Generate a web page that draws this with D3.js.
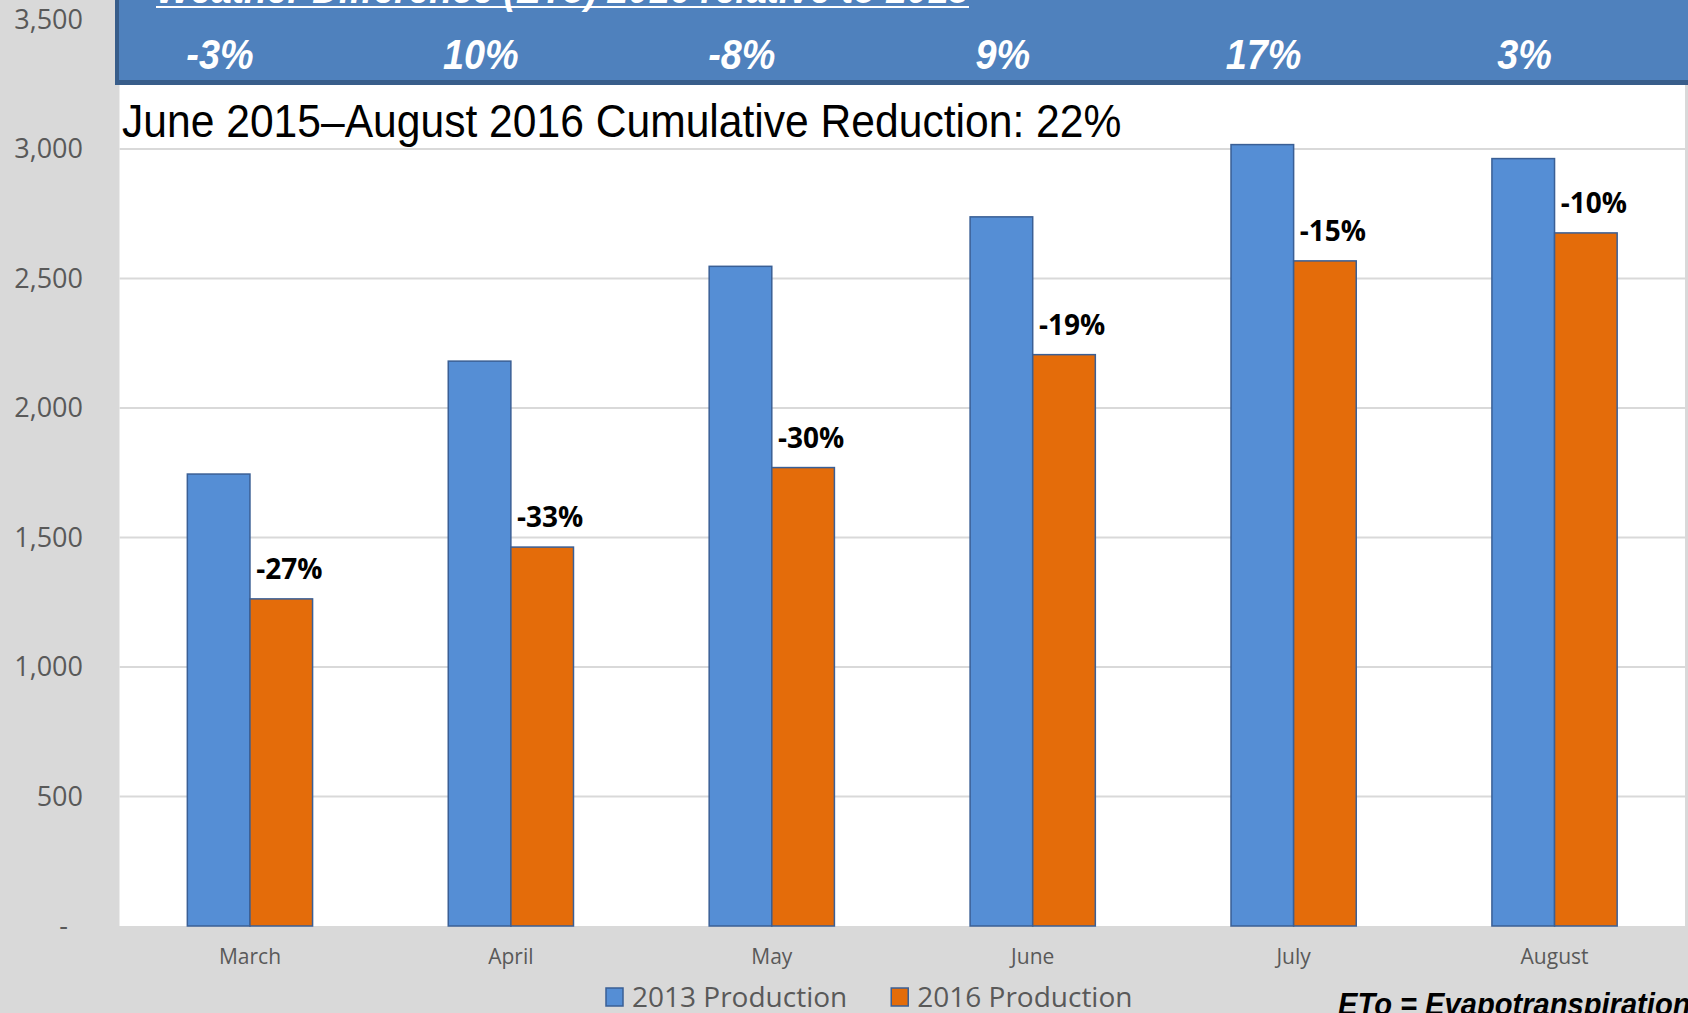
<!DOCTYPE html>
<html>
<head>
<meta charset="utf-8">
<script src="https://cdn.jsdelivr.net/npm/d3@7"></script>
<style>
body { margin:0; background:#d9d9d9; overflow:hidden; }
</style>
</head>
<body>
<div id="chart"></div>
<script>
var months = ["March", "April", "May", "June", "July", "August"];
var prod2013 = [1745, 2181, 2547, 2738, 3017, 2963];
var prod2016 = [1263, 1463, 1770, 2206, 2568, 2676];
var reduction = ["-27%", "-33%", "-30%", "-19%", "-15%", "-10%"];
var etoDiff = ["-3%", "10%", "-8%", "9%", "17%", "3%"];
var yTicks = [0, 500, 1000, 1500, 2000, 2500, 3000, 3500];
var seriesNames = ["2013 Production", "2016 Production"];
var seriesColors = ["#558ed5", "#e46c0a"];

var W = 1688, H = 1013;
var plot = {left: 119.5, right: 1685, top: 19.5, bottom: 926};

var svg = d3.select("#chart").append("svg")
  .attr("width", W)
  .attr("height", H);

svg.append("rect")
  .attr("width", W).attr("height", H)
  .attr("fill", "#d9d9d9");

var x0 = d3.scaleBand()
  .domain(months)
  .range([plot.left, plot.right])
  .padding(0);

var barW = x0.bandwidth() * 0.24;

var y = d3.scaleLinear()
  .domain([0, 3500])
  .range([plot.bottom, plot.top]);

// squeeze text horizontally (the source fonts are narrower)
function squeeze(sel, k) {
  sel.each(function(){
    var w = this.getComputedTextLength();
    d3.select(this).attr("textLength", w * k).attr("lengthAdjust", "spacingAndGlyphs");
  });
}

// plot area
svg.append("rect")
  .attr("x", plot.left)
  .attr("y", plot.top)
  .attr("width", plot.right - plot.left)
  .attr("height", plot.bottom - plot.top)
  .attr("fill", "#fff");

svg.selectAll(".grid")
  .data(yTicks.filter(function(d){ return d > 0; }))
  .enter().append("line")
  .attr("class", "grid")
  .attr("x1", plot.left)
  .attr("x2", plot.right)
  .attr("y1", function(d){ return y(d); })
  .attr("y2", function(d){ return y(d); })
  .attr("stroke", "#d9d9d9")
  .attr("stroke-width", 2);

// y axis
var yAxis = svg.append("g")
  .attr("transform", "translate(83,0)")
  .call(d3.axisLeft(y).tickValues(yTicks).tickSize(0).tickPadding(0)
    .tickFormat(function(d){ return d === 0 ? "-" : d3.format(",")(d); }));
yAxis.select(".domain").remove();
yAxis.selectAll("text")
  .attr("font-family", "Open Sans")
  .attr("font-size", "27px")
  .attr("fill", "#595959")
  .attr("dx", function(d){ return d === 0 ? -15 : 0; });

// x axis
var xAxis = svg.append("g")
  .attr("transform", "translate(0," + plot.bottom + ")")
  .call(d3.axisBottom(x0).tickSize(0).tickPadding(23));
xAxis.select(".domain").remove();
xAxis.selectAll("text")
  .attr("font-family", "Open Sans")
  .attr("font-size", "21px")
  .attr("fill", "#595959");

// bars
var groups = svg.selectAll(".month")
  .data(months)
  .enter().append("g")
  .attr("class", "month");

groups.append("rect")
  .attr("x", function(d){ return x0(d) + x0.bandwidth() / 2 - barW; })
  .attr("y", function(d, i){ return y(prod2013[i]); })
  .attr("width", barW)
  .attr("height", function(d, i){ return y(0) - y(prod2013[i]); })
  .attr("fill", seriesColors[0])
  .attr("stroke", "#3a5f95")
  .attr("stroke-width", 1.5);

groups.append("rect")
  .attr("x", function(d){ return x0(d) + x0.bandwidth() / 2; })
  .attr("y", function(d, i){ return y(prod2016[i]); })
  .attr("width", barW)
  .attr("height", function(d, i){ return y(0) - y(prod2016[i]); })
  .attr("fill", seriesColors[1])
  .attr("stroke", "#3a5f95")
  .attr("stroke-width", 1.5);

groups.append("text")
  .attr("x", function(d){ return x0(d) + x0.bandwidth() / 2 + barW / 2 + 8; })
  .attr("y", function(d, i){ return y(prod2016[i]) - 20; })
  .attr("text-anchor", "middle")
  .attr("font-family", "Open Sans")
  .attr("font-weight", "bold")
  .attr("font-size", "28px")
  .attr("fill", "#000")
  .text(function(d, i){ return reduction[i]; });

// header box
svg.append("rect")
  .attr("x", 115).attr("y", -10)
  .attr("width", W - 115).attr("height", 95)
  .attr("fill", "#385d8a");
svg.append("rect")
  .attr("x", 119).attr("y", -10)
  .attr("width", W - 119).attr("height", 90)
  .attr("fill", "#4f81bd");

var title = svg.append("text")
  .attr("x", 156)
  .attr("y", 3)
  .attr("font-family", "Liberation Sans")
  .attr("font-weight", "bold")
  .attr("font-style", "italic")
  .attr("font-size", "42px")
  .attr("fill", "#fff")
  .text("Weather Difference (ETo) 2016 relative to 2013");
title.attr("textLength", 813).attr("lengthAdjust", "spacingAndGlyphs");
svg.append("line")
  .attr("x1", 156).attr("x2", 969)
  .attr("y1", 7).attr("y2", 7)
  .attr("stroke", "#fff")
  .attr("stroke-width", 2);

svg.selectAll(".eto")
  .data(months)
  .enter().append("text")
  .attr("class", "eto")
  .attr("x", function(d){ return x0(d) + x0.bandwidth() / 2 - 30; })
  .attr("y", 69)
  .attr("text-anchor", "middle")
  .attr("font-family", "Liberation Sans")
  .attr("font-weight", "bold")
  .attr("font-style", "italic")
  .attr("font-size", "42px")
  .attr("fill", "#fff")
  .text(function(d, i){ return etoDiff[i]; })
  .call(squeeze, 0.9);

svg.append("text")
  .attr("x", 122)
  .attr("y", 137)
  .attr("font-family", "Liberation Sans")
  .attr("font-size", "46px")
  .attr("fill", "#000")
  .text("June 2015\u2013August 2016 Cumulative Reduction: 22%")
  .call(squeeze, 0.926);

// legend
var legend = svg.append("g").attr("transform", "translate(606,0)");
var lx = 0;
seriesNames.forEach(function(name, i){
  var item = legend.append("g").attr("transform", "translate(" + lx + ",0)");
  item.append("rect")
    .attr("x", 0).attr("y", 988)
    .attr("width", 17).attr("height", 18)
    .attr("fill", seriesColors[i])
    .attr("stroke", "#3a5f95")
    .attr("stroke-width", 1.5);
  var t = item.append("text")
    .attr("x", 26).attr("y", 1007)
    .attr("font-family", "Open Sans")
    .attr("font-size", "28px")
    .attr("fill", "#595959")
    .text(name);
  lx += 26 + t.node().getComputedTextLength() + 44;
});

svg.append("text")
  .attr("x", 1338)
  .attr("y", 1015)
  .attr("font-family", "Liberation Sans")
  .attr("font-weight", "bold")
  .attr("font-style", "italic")
  .attr("font-size", "32px")
  .attr("fill", "#000")
  .text("ETo = Evapotranspiration")
  .call(squeeze, 0.91);
</script>
</body>
</html>
